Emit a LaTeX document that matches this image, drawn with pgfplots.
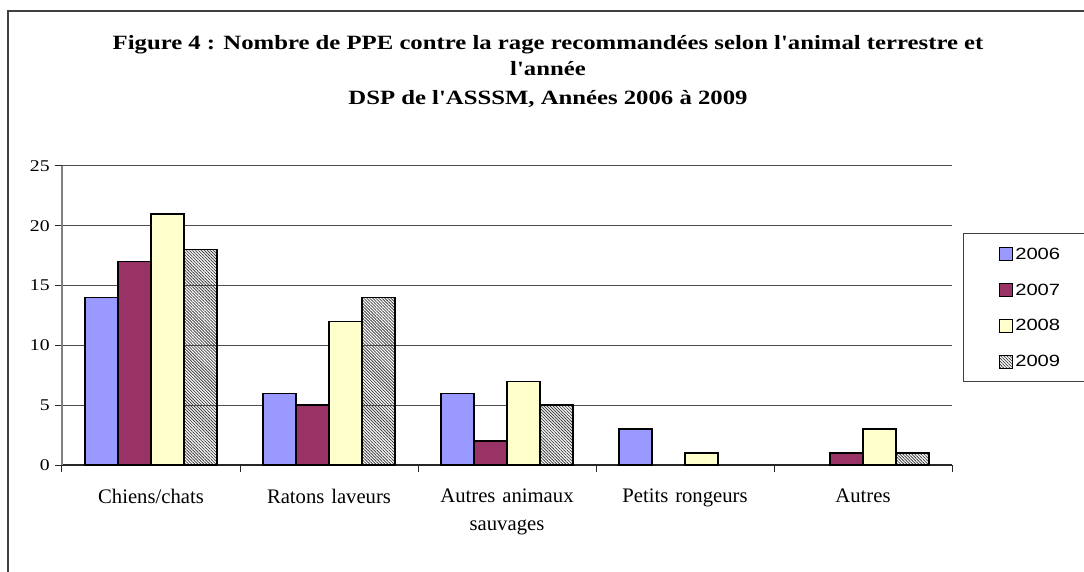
\documentclass[border=0pt]{standalone}
\usepackage{fontspec}
\setmainfont{Liberation Serif}
\newfontfamily\titlefont[FakeStretch=1.22]{Liberation Serif}
\newfontfamily\tickfont[FakeStretch=1.2]{Liberation Serif}
\newfontfamily\legfont[FakeStretch=1.24]{Liberation Sans}
\usepackage{pgfplots}
\usepackage{pgfplotstable}
\pgfplotsset{compat=1.18}
\usetikzlibrary{patterns.meta}
\definecolor{c06}{HTML}{9999FF}
\definecolor{c07}{HTML}{993366}
\definecolor{c08}{HTML}{FFFFCC}
\begin{document}
\begin{tikzpicture}
\begin{scope}[x=0.75pt,y=0.75pt]
\draw[line width=1.1pt, black!75] (8,-20) -- (8,560) -- (1120,560);
\draw[line width=0.75pt, black!75] (1120,337) -- (963,337) -- (963,189) -- (1120,189);
\node[font=\titlefont\bfseries\fontsize{15.2}{17}\selectfont, anchor=base] at (548,521) {Figure 4 : Nombre de PPE contre la rage recommandées selon l'animal terrestre et};
\node[font=\titlefont\bfseries\fontsize{15.2}{17}\selectfont, anchor=base] at (548,495) {l'année};
\node[font=\titlefont\bfseries\fontsize{15.2}{17}\selectfont, anchor=base] at (548,466) {DSP de l'ASSSM, Années 2006 à 2009};
\end{scope}
\begin{axis}[
  at={(46.5pt,79.5pt)}, anchor=south west,
  width=667.5pt, height=224.25pt, scale only axis,
  xmin=-0.5, xmax=4.5, ymin=0, ymax=25,
  ybar=0pt, bar width=24.75pt,
  legend image code/.code={\draw[#1, line width=0.75pt] (0pt,-4.9pt) rectangle (9.75pt,4.9pt);},
  axis x line*=bottom, axis y line*=left,
  x axis line style={black!85, line width=0.9pt},
  y axis line style={black!50, line width=1.1pt},
  ymajorgrids, grid style={black!70, line width=0.75pt},
  ytick={0,5,10,15,20,25},
  tick align=outside, major tick length=5.25pt,
  tick style={black!85, line width=0.75pt},
  xtick={-0.5,0.5,1.5,2.5,3.5,4.5},
  xticklabels={,,,,,},
  extra x ticks={0,1,2,3,4},
  extra x tick labels={Chiens/chats,Ratons laveurs,{Autres animaux\\sauvages},Petits rongeurs,Autres},
  extra x tick style={grid=none, major tick length=0pt, tick style={draw=none}},
  xticklabel style={font=\fontsize{15.5}{20.5}\selectfont, align=center, text width=150pt, anchor=north, yshift=-14.5pt},
  yticklabel style={font=\tickfont\fontsize{12.3}{14}\selectfont, xshift=-0.5pt},
  /pgf/number format/assume math mode=true,
  legend style={at={(1.0124,0.772)}, anchor=north west, draw=none, fill=none,
    font=\legfont\fontsize{12.2}{14}\selectfont, inner xsep=26.5pt, inner ysep=8pt, row sep=12.9pt},
  legend cell align=left,
]
\addplot[fill=c06, draw=black, line width=1.1pt] coordinates {(0,14) (1,6) (2,6) (3,3)};
\addplot[fill=c07, draw=black, line width=1.1pt] coordinates {(0,17) (1,5) (2,2) (4,1)};
\addplot[fill=c08, draw=black, line width=1.1pt] coordinates {(0,21) (1,12) (2,7) (3,1) (4,3)};
\addplot[draw=black, line width=1.1pt, pattern={Lines[angle=-45,distance=1.6pt,line width=0.6pt]}, pattern color=black!75] coordinates {(0,18) (1,14) (2,5) (4,1)};
\legend{2006,2007,2008,2009}
\end{axis}
\pgfresetboundingbox
\path[use as bounding box] (0,0) rectangle (813pt,428.25pt);
\end{tikzpicture}
\end{document}
